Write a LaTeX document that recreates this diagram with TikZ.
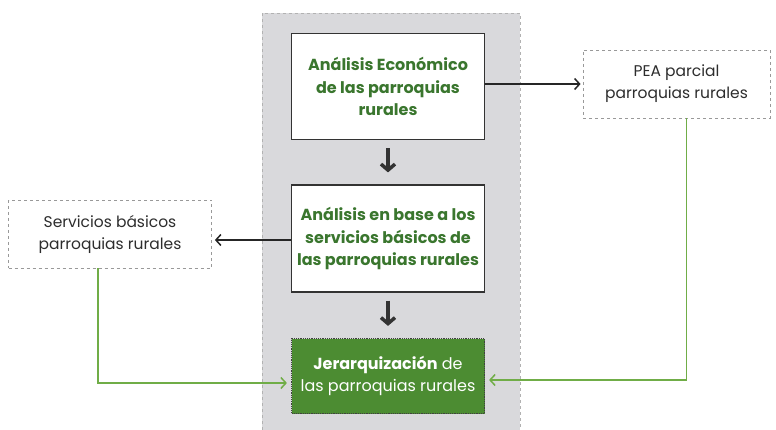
\documentclass[tikz,border=0pt]{standalone}
\usepackage{fontspec}
\setmainfont{Poppins}
\usepackage{xcolor}
\usetikzlibrary{positioning,arrows.meta}

\definecolor{panelgray}{RGB}{217,217,220}
\definecolor{titlegreen}{RGB}{58,118,46}
\definecolor{boxgreen}{RGB}{76,140,50}
\definecolor{linkgreen}{RGB}{112,173,71}
\definecolor{textgray}{RGB}{45,45,45}

\begin{document}
\begin{tikzpicture}[
    x=1pt,y=-1pt,
    box/.style={draw=black!80,line width=1.2pt,fill=white,minimum width=193pt,align=center,font=\bfseries\fontsize{16}{22.5}\selectfont,text=titlegreen,inner sep=1pt},
    goal/.style={draw=black!75,densely dotted,line width=1.2pt,fill=boxgreen,minimum width=193pt,minimum height=75pt,align=center,font=\fontsize{16}{22}\selectfont,text=white,inner sep=1pt},
    side/.style={draw=gray!80,dashed,line width=0.8pt,fill=white,minimum height=68pt,align=center,font=\fontsize{15.5}{22}\selectfont,text=textgray},
    down/.style={-{Straight Barb[length=6pt,width=14pt]},line width=3.5pt,black!80},
    arr/.style={-{Straight Barb[length=5pt,width=11pt]},line width=1.5pt,black!85},
    link/.style={-{Straight Barb[length=5pt,width=11pt]},line width=1.5pt,linkgreen}
  ]
    \useasboundingbox (0,0) rectangle (776,430);
    % central panel
    \fill[panelgray] (262,13) rectangle (520,430);
    \draw[gray!60,dashed,line width=0.8pt] (262,430) -- (262,13) -- (520,13) -- (520,430);

    \node[box,minimum height=106pt] (eco) at (388,86.5) {Análisis Económico\\de las parroquias\\rurales};
    \node[box,minimum height=107pt] (serv) at (388,238.5) {Análisis en base a los\\servicios básicos de\\las parroquias rurales};
    \node[goal] (jer) at (388,376) {\textbf{Jerarquización} de\\las parroquias rurales};
    \node[side,minimum width=187pt] (pea) at (676.5,84) {PEA parcial\\parroquias rurales};
    \node[side,minimum width=203pt] (sb) at (110,234) {Servicios básicos\\parroquias rurales};

    \draw[down] ([yshift=-8pt]eco.south) -- ([yshift=12pt]serv.north);
    \draw[down] ([yshift=-8pt]serv.south) -- ([yshift=12pt]jer.north);
    \draw[arr] (eco.east |- pea.west) -- ([xshift=-2pt]pea.west);
    \draw[arr] (serv.west |- sb.east) ++(0,6) -- ([xshift=3pt,yshift=-6pt]sb.east);
    \draw[link] ([xshift=-12pt]sb.south) |- ([xshift=-4pt,yshift=-7pt]jer.west);
    \draw[link] ([xshift=10pt]pea.south) |- ([xshift=4pt,yshift=-4pt]jer.east);
  \end{tikzpicture}
\end{document}
